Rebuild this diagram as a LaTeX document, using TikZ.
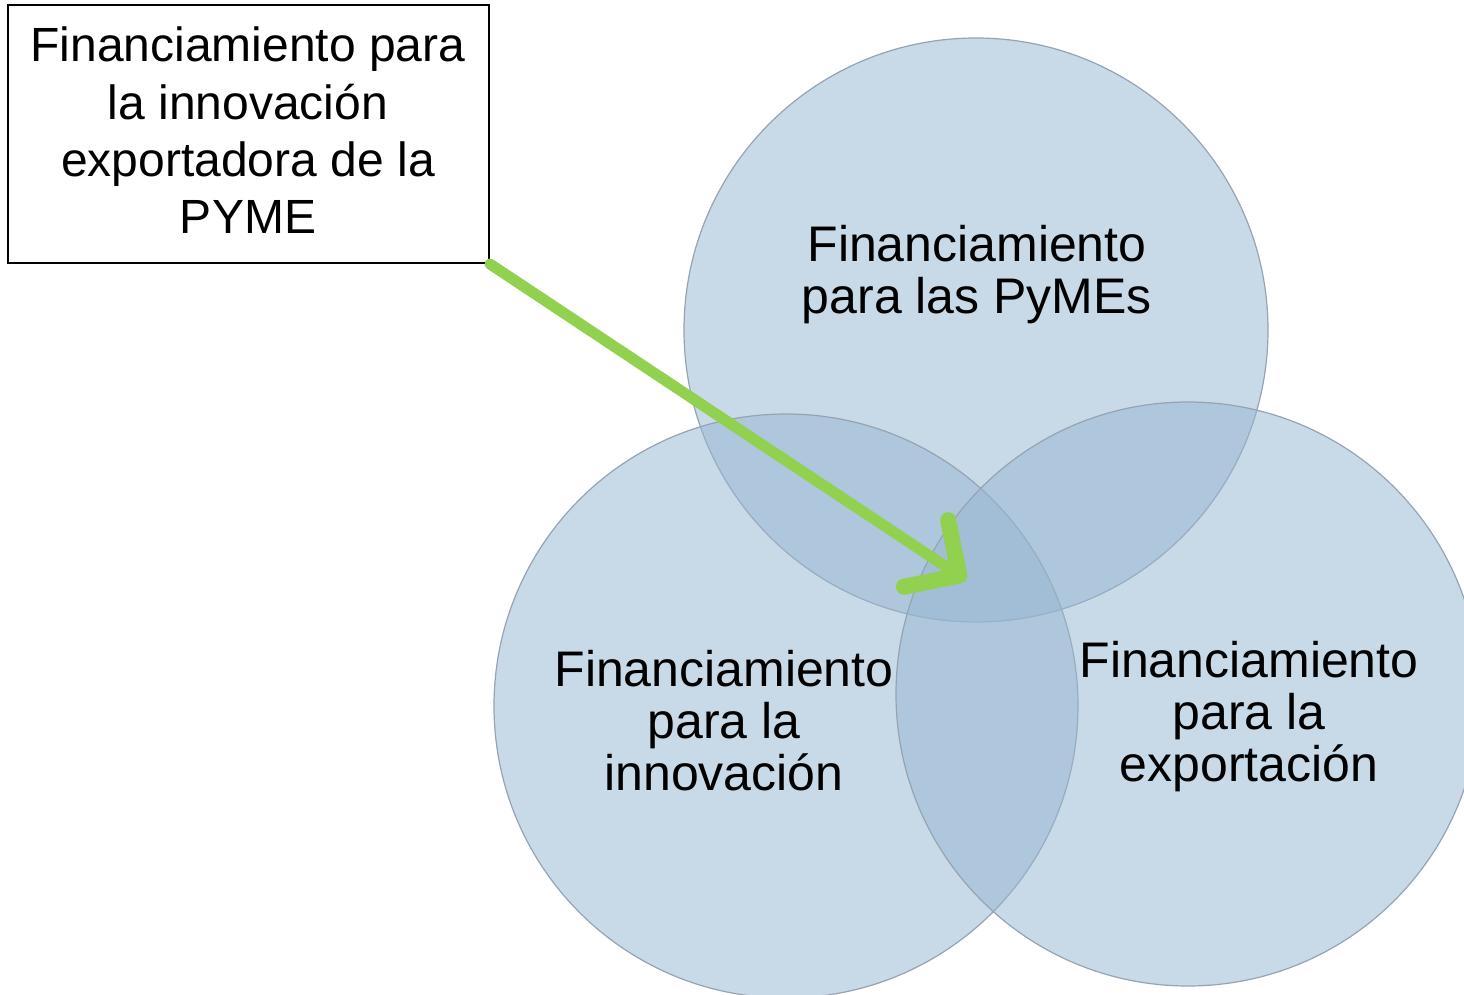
\documentclass[tikz,border=0pt]{standalone}
\usepackage{fontspec}
\setmainfont{Liberation Sans}
\usetikzlibrary{arrows.meta}
\definecolor{vennfill}{RGB}{151,183,210}
\definecolor{vennedge}{RGB}{150,163,178}
\definecolor{arrowgreen}{RGB}{146,208,80}
\tikzset{
  venn/.style={circle, draw=vennedge, line width=0.6pt, fill=vennfill, fill opacity=0.53, minimum size=292pt, inner sep=0pt},
  venntext/.style={anchor=base, inner sep=0pt, text=black, font=\fontsize{25}{26}\selectfont},
  boxtext/.style={anchor=base, inner sep=0pt, text=black, font=\fontsize{24}{28.6}\selectfont},
  framebox/.style={draw=black, line width=1pt, fill=white, minimum width=240.5pt, minimum height=129pt, inner sep=0pt},
  greenarrow/.style={draw=arrowgreen, line width=5.5pt, line cap=round, -{Straight Barb[length=20pt, width=40pt, line width=8pt, round]}}
}
\newcommand{\lines}[1]{\setlength{\tabcolsep}{0pt}\begin{tabular}[t]{c}#1\end{tabular}}
\begin{document}
\begin{tikzpicture}[x=0.5pt,y=-0.5pt]
\useasboundingbox (0,0) rectangle (1464,995);
% circles
\node[venn] (ctop) at (976,330) {};
\node[venn] (cleft) at (786,706) {};
\node[venn] (cright) at (1188,694) {};
% circle labels
\node[venntext] (ttop) at (977,262) {\lines{Financiamiento\\para las PyMEs}};
\node[venntext] (tleft) at (724,686) {\lines{Financiamiento\\para la\\innovación}};
\node[venntext] (tright) at (1249,677) {\lines{Financiamiento\\para la\\exportación}};
% box
\node[framebox] (box) at (248.5,134) {};
\node[boxtext] (boxlabel) at (248,62) {\lines{Financiamiento para\\la innovación\\exportadora de la\\PYME}};
% arrow
\coordinate (tip) at (966,580);
\draw[greenarrow] (box.south east) -- (tip);
\end{tikzpicture}
\end{document}
